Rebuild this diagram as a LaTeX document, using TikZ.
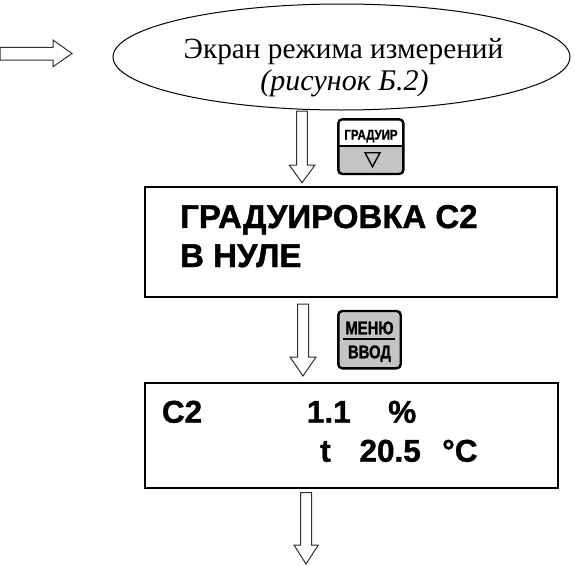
\documentclass[tikz,border=0pt]{standalone}
\usepackage{fontspec}
\setmainfont{Liberation Serif}
\newfontfamily\arialfont{Liberation Sans}[BoldFeatures={FakeBold=1.2}]
\usetikzlibrary{shapes.geometric}
\definecolor{btngray}{HTML}{C4C4C4}
\definecolor{arrgray}{HTML}{303030}
\tikzset{
  hollow/.style={draw=arrgray, line width=1pt, fill=white, line join=miter},
  screen/.style={draw=black, line width=2.4pt},
  btn/.style={draw=black, line width=2.4pt, rounded corners=4pt},
  lcd/.style={inner sep=0pt, anchor=base west, font=\arialfont\bfseries\fontsize{31.5}{31.5}\selectfont},
}
\begin{document}
\begin{tikzpicture}[x=1pt,y=-1pt]
\useasboundingbox (0,0) rectangle (575,565);
% ellipse
\node[ellipse, draw=black, line width=1pt, minimum width=457pt, minimum height=106pt, inner sep=0pt] (scr) at (341.5,57) {};
\node[inner sep=0pt, anchor=base, font=\fontsize{29.3}{29.3}\selectfont] (t1) at (343.5,58.7) {Экран режима измерений};
\node[inner sep=0pt, anchor=base, font=\itshape\fontsize{30}{30}\selectfont] (t2) at (344.5,90) {(рисунок Б.2)};
% left arrow
\draw[hollow] (0,47.3) -- (53,47.3) -- (53,40) -- (72,53.5) -- (53,66.7) -- (53,60) -- (0,60) -- cycle;
% arrow 1
\draw[hollow] (296.7,111) -- (307.3,111) -- (307.3,165) -- (315,165) -- (302,182.7) -- (289.3,165) -- (296.7,165) -- cycle;
% button 1
\fill[btngray, rounded corners=4pt] (338.3,146) -- (338.3,174) -- (403.3,174) -- (403.3,146) -- cycle;
\draw[black, line width=1.3pt] (338.3,146) -- (403.3,146);
\draw[btn] (338.3,119.3) rectangle (403.3,174);
\node[inner sep=0pt, anchor=base, font=\arialfont\bfseries\fontsize{14}{14}\selectfont] (b1t) at (371,139.5) {\scalebox{0.82}[1]{ГРАДУИР}};
\draw[black, line width=1.4pt, line join=miter] (365,152.7) -- (380,152.7) -- (372.5,166.7) -- cycle;
% box 1
\node[screen, minimum width=412pt, minimum height=110pt, inner sep=0pt] (box1) at (351,242) {};
\node[inner sep=0pt, anchor=base west, font=\arialfont\bfseries\fontsize{33}{33}\selectfont] (l1) at (180,228) {ГРАДУИРОВКА С2};
\node[inner sep=0pt, anchor=base west, font=\arialfont\bfseries\fontsize{33}{33}\selectfont] (l2) at (180,267) {В НУЛЕ};
% arrow 2
\draw[hollow] (297.5,304) -- (308.5,304) -- (308.5,357) -- (316,357) -- (303,376) -- (290,357) -- (297.5,357) -- cycle;
% button 2
\draw[btn, fill=btngray] (338.3,311) rectangle (400.7,368.3);
\node[inner sep=0pt, anchor=base, font=\arialfont\bfseries\fontsize{18.5}{18.5}\selectfont] (m1) at (369.5,334.3) {\scalebox{0.8}[1]{МЕНЮ}};
\draw[black, line width=1.8pt] (343,339) -- (395,339);
\node[inner sep=0pt, anchor=base, font=\arialfont\bfseries\fontsize{18.5}{18.5}\selectfont] (m2) at (369.5,358.3) {\scalebox{0.8}[1]{ВВОД}};
% box 2
\node[screen, minimum width=413pt, minimum height=105.3pt, inner sep=0pt] (box2) at (351.5,435.35) {};
\node[lcd] (c2) at (161.7,422.7) {C2};
\node[lcd] (v1) at (306.7,422.7) {1.1};
\node[lcd] (pc) at (388,422.7) {\%};
\node[lcd] (tt) at (320,461.7) {t};
\node[lcd] (v2) at (359.3,461.7) {20.5};
\node[lcd] (dc) at (442,461.7) {°C};
% arrow 3
\draw[hollow] (300.7,492.7) -- (311.7,492.7) -- (311.7,545) -- (318.3,545) -- (306,564) -- (294,545) -- (300.7,545) -- cycle;
\end{tikzpicture}
\end{document}
